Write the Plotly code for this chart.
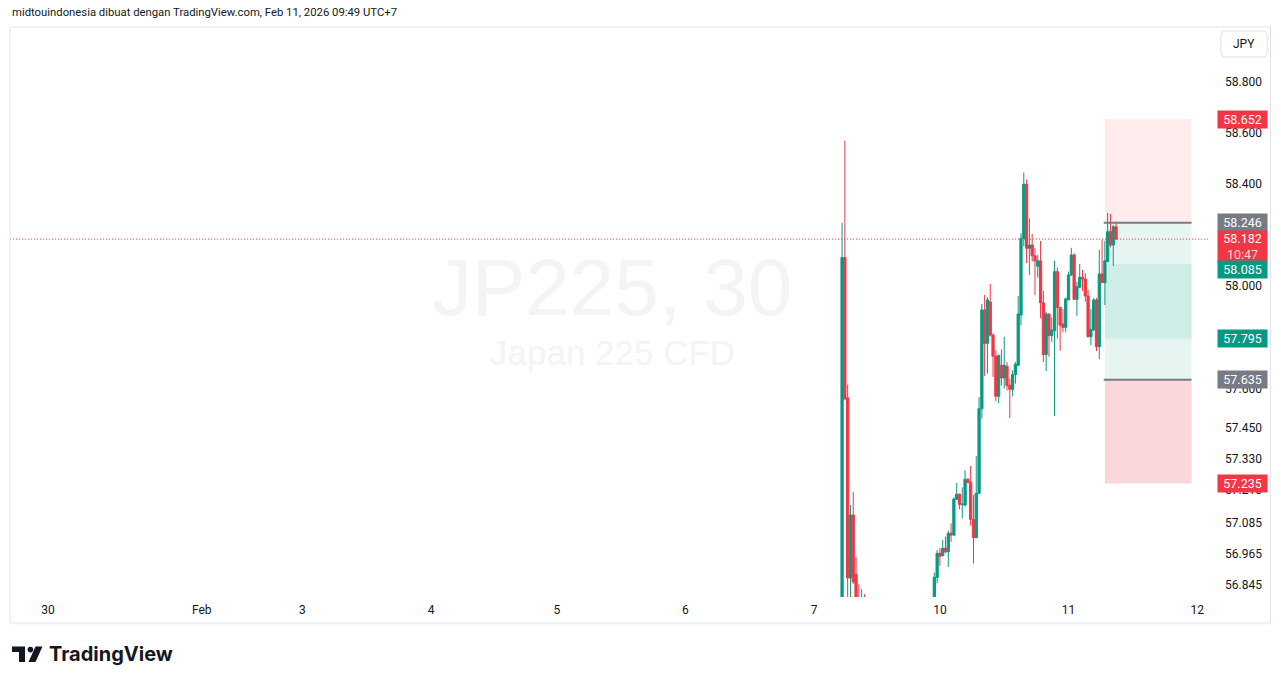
import math
import plotly.graph_objects as go

# ---- JP225 CFD, 30-minute bars (x = bar index, 0 = first bar of the rally leg) ----
bar_idx = list(range(-33, -24)) + list(range(0, 66))

opens = [
    54.300, 58.110, 57.565, 56.873, 57.114, 56.887, 56.780, 56.650, 56.780,
    56.700, 56.875, 56.967, 56.958, 56.987, 56.973, 57.044, 57.037, 57.174, 57.194,
    57.153, 57.152, 57.251, 57.240, 57.097, 57.027, 57.197, 57.523, 57.906, 57.776,
    57.937, 57.808, 57.726, 57.571, 57.691, 57.642, 57.687, 57.613, 57.598, 57.655,
    57.691, 57.886, 58.185, 58.397, 58.146, 58.159, 58.117, 58.076, 58.097, 57.934,
    57.733, 57.890, 57.806, 57.825, 58.055, 57.915, 57.851, 57.838, 57.945, 58.042,
    58.120, 57.947, 57.994, 58.033, 58.026, 57.960, 57.802, 57.828, 57.945, 57.763,
    58.046, 58.012, 58.094, 58.211, 58.159, 58.230,
]
highs = [
    58.246, 58.568, 57.617, 57.152, 57.203, 56.954, 56.849, 56.830, 56.811,
    56.894, 56.979, 56.988, 57.018, 57.031, 57.054, 57.082, 57.182, 57.237, 57.196,
    57.220, 57.286, 57.256, 57.302, 57.191, 57.340, 57.568, 57.929, 57.964, 57.955,
    58.007, 57.815, 57.750, 57.731, 57.753, 57.802, 57.703, 57.640, 57.672, 57.704,
    57.960, 58.205, 58.443, 58.416, 58.263, 58.202, 58.147, 58.120, 58.175, 57.980,
    57.899, 57.892, 57.877, 58.097, 58.071, 57.917, 57.910, 57.954, 58.055, 58.148,
    58.127, 58.016, 58.085, 58.062, 58.049, 57.984, 57.910, 57.952, 57.952, 58.140,
    58.181, 58.176, 58.285, 58.280, 58.237, 58.250,
]
lows = [
    54.250, 57.555, 56.550, 56.600, 56.850, 56.650, 56.650, 56.600, 56.620,
    56.650, 56.852, 56.919, 56.956, 56.967, 56.915, 57.011, 57.033, 57.171, 57.136,
    57.101, 57.146, 57.237, 57.073, 56.928, 57.025, 57.195, 57.485, 57.650, 57.659,
    57.802, 57.646, 57.552, 57.544, 57.613, 57.601, 57.594, 57.487, 57.571, 57.620,
    57.690, 57.845, 58.155, 58.088, 58.042, 58.094, 57.964, 58.032, 57.873, 57.704,
    57.669, 57.724, 57.782, 57.495, 57.795, 57.747, 57.819, 57.819, 57.944, 58.038,
    57.945, 57.883, 57.990, 57.980, 57.938, 57.799, 57.769, 57.824, 57.746, 57.715,
    58.011, 57.925, 58.093, 58.150, 58.077, 58.178,
]
closes = [
    58.110, 57.562, 56.873, 57.114, 56.858, 56.700, 56.700, 56.760, 56.700,
    56.876, 56.967, 56.956, 56.986, 56.973, 57.044, 57.037, 57.175, 57.194, 57.155,
    57.156, 57.251, 57.238, 57.097, 57.027, 57.197, 57.523, 57.906, 57.776, 57.945,
    57.808, 57.726, 57.571, 57.730, 57.642, 57.691, 57.613, 57.598, 57.655, 57.695,
    57.890, 58.185, 58.397, 58.146, 58.159, 58.117, 58.097, 58.097, 57.934, 57.733,
    57.890, 57.806, 57.828, 58.055, 57.915, 57.847, 57.838, 57.949, 58.042, 58.120,
    57.947, 57.996, 58.033, 58.026, 57.960, 57.802, 57.830, 57.945, 57.763, 58.046,
    58.012, 58.097, 58.211, 58.159, 58.230, 58.182,
]

# ---- time scale (first bar of each day) ----
day_tick_idx = [-317, -262, -226, -180, -135, -89, -43, 2, 48, 94]
day_tick_text = ["30", "Feb", "3", "4", "5", "6", "7", "10", "11", "12"]

# ---- price scale (logarithmic) ----
price_ticks = [58.8, 58.6, 58.4, 58.0, 57.6, 57.45, 57.33, 57.21, 57.085, 56.965, 56.845]
price_tick_text = ["58.800", "58.600", "58.400", "58.000", "57.600", "57.450",
                   "57.330", "57.210", "57.085", "56.965", "56.845"]

last_price = 58.182
last_price_text = "58.182"
countdown_text = "10:47"

# ---- position tools (short + long) ----
short_entry, short_stop, short_target = 58.246, 58.652, 57.795
long_entry, long_stop, long_target = 57.635, 57.235, 58.085
tool_start, tool_end = 61, 92

# ---- colours ----
UP = "#089981"
DOWN = "#F23645"
GREY = "#787B86"
TEXT = "#131722"
FRAME = "#E0E3EB"

W, H = 1281, 684
ML, MR, MT, MB = 10, 71, 27, 87
PW, PH = W - ML - MR, H - MT - MB
X_RANGE = [-330.6, 98.6]
Y_RANGE = [1.75435, 1.770975]


def px(x):
    """page pixel -> paper x"""
    return (x - ML) / PW


def py(y):
    """page pixel -> paper y"""
    return (H - MB - y) / PH


fig = go.Figure()

fig.add_trace(go.Candlestick(
    x=bar_idx, open=opens, high=highs, low=lows, close=closes,
    increasing=dict(line=dict(color=UP, width=1), fillcolor=UP),
    decreasing=dict(line=dict(color=DOWN, width=1), fillcolor=DOWN),
    whiskerwidth=0, hoverinfo="skip", showlegend=False,
))

shapes = []
# position tool zones
zones = [
    (short_entry, short_stop, "rgba(242,54,69,0.10)"),
    (short_target, short_entry, "rgba(8,153,129,0.10)"),
    (long_entry, long_target, "rgba(8,153,129,0.10)"),
    (long_stop, long_entry, "rgba(242,54,69,0.20)"),
]
for lo, hi, col in zones:
    shapes.append(dict(type="rect", xref="x", yref="y", x0=tool_start, x1=tool_end,
                       y0=lo, y1=hi, fillcolor=col, line=dict(width=0), layer="below"))
for lvl in (short_entry, long_entry):
    shapes.append(dict(type="line", xref="x", yref="y", x0=tool_start - 0.4, x1=tool_end,
                       y0=lvl, y1=lvl, line=dict(color=GREY, width=2), layer="above"))
# last price line
shapes.append(dict(type="line", xref="x", yref="y", x0=X_RANGE[0], x1=X_RANGE[1],
                   y0=last_price, y1=last_price,
                   line=dict(color=DOWN, width=1, dash="1px,2px"), layer="above"))

# chart frame
shapes.append(dict(type="rect", xref="paper", yref="paper",
                   x0=px(10), x1=px(1270.5), y0=py(623), y1=py(27),
                   line=dict(color=FRAME, width=1), fillcolor="rgba(0,0,0,0)"))
shapes.append(dict(type="line", xref="paper", yref="paper",
                   x0=px(10), x1=px(1271), y0=py(623.5), y1=py(623.5),
                   line=dict(color="#F0F3FA", width=2)))

# currency button
x0b, x1b, y0b, y1b, r = 1221, 1267, 31, 57, 4
path = (f"M {px(x0b + r)},{py(y0b)} L {px(x1b - r)},{py(y0b)} "
        f"Q {px(x1b)},{py(y0b)} {px(x1b)},{py(y0b + r)} L {px(x1b)},{py(y1b - r)} "
        f"Q {px(x1b)},{py(y1b)} {px(x1b - r)},{py(y1b)} L {px(x0b + r)},{py(y1b)} "
        f"Q {px(x0b)},{py(y1b)} {px(x0b)},{py(y1b - r)} L {px(x0b)},{py(y0b + r)} "
        f"Q {px(x0b)},{py(y0b)} {px(x0b + r)},{py(y0b)} Z")
shapes.append(dict(type="path", xref="paper", yref="paper", path=path,
                   line=dict(color=FRAME, width=1), fillcolor="white"))

# TradingView logo mark
def poly(pts):
    return "M " + " L ".join(f"{px(a)},{py(b)}" for a, b in pts) + " Z"

shapes.append(dict(type="path", xref="paper", yref="paper",
                   path=poly([(12, 646.5), (25, 646.5), (25, 662), (19, 662), (19, 652), (12, 652)]),
                   fillcolor="#131722", line=dict(width=0)))
shapes.append(dict(type="circle", xref="paper", yref="paper",
                   x0=px(27.6), x1=px(33.2), y0=py(652.4), y1=py(646.8),
                   fillcolor="#131722", line=dict(width=0)))
shapes.append(dict(type="path", xref="paper", yref="paper",
                   path=poly([(35.5, 646.5), (42.5, 646.5), (35.5, 662), (28.5, 662)]),
                   fillcolor="#131722", line=dict(width=0)))

annotations = []

# watermark
annotations.append(dict(text="JP225, 30", xref="paper", yref="paper", x=px(612), y=py(287),
                        xanchor="center", yanchor="middle", showarrow=False,
                        font=dict(family="Liberation Sans", size=80, color="#F4F4F5")))
annotations.append(dict(text="Japan 225 CFD", xref="paper", yref="paper", x=px(612), y=py(352),
                        xanchor="center", yanchor="middle", showarrow=False,
                        font=dict(family="Liberation Sans", size=35, color="#F4F4F5")))

# header
annotations.append(dict(text="midtouindonesia dibuat dengan TradingView.com, Feb 11, 2026 09:49 UTC+7",
                        xref="paper", yref="paper", x=px(10), y=py(13), xanchor="left",
                        yanchor="middle", showarrow=False,
                        font=dict(family="Roboto", size=11.3, color=TEXT)))
# logo text
annotations.append(dict(text="<b>TradingView</b>", xref="paper", yref="paper", x=px(47), y=py(654),
                        xanchor="left", yanchor="middle", showarrow=False,
                        font=dict(family="Inter", size=20, color=TEXT)))
# currency
annotations.append(dict(text="JPY", xref="paper", yref="paper", x=px(1244), y=py(44),
                        xanchor="center", yanchor="middle", showarrow=False,
                        font=dict(family="Roboto", size=12, color=TEXT)))

# price-scale labels
def price_label(value, text, bg, shift=0, color="white", h=13):
    annotations.append(dict(text=text, xref="paper", yref="y", x=px(1242.5), y=math.log10(value),
                            xanchor="center", yanchor="middle", yshift=shift, showarrow=False,
                            bgcolor=bg, borderpad=2, width=45, height=h, align="center",
                            font=dict(family="Roboto", size=12.5, color=color)))

price_label(short_stop, f"{short_stop:.3f}", DOWN)
price_label(short_entry, f"{short_entry:.3f}", GREY)
price_label(last_price,
            f"{last_price_text}<br><span style='color:rgba(255,255,255,0.8)'>{countdown_text}</span>",
            DOWN, shift=-7.5, h=27)
price_label(long_target, f"{long_target:.3f}", UP, shift=-6)
price_label(short_target, f"{short_target:.3f}", UP)
price_label(long_entry, f"{long_entry:.3f}", GREY)
price_label(long_stop, f"{long_stop:.3f}", DOWN)

fig.update_layout(
    width=W, height=H,
    margin=dict(l=ML, r=MR, t=MT, b=MB, pad=0),
    paper_bgcolor="white", plot_bgcolor="white",
    showlegend=False,
    boxgap=0.2, boxgroupgap=0,
    shapes=shapes,
    annotations=annotations,
    xaxis=dict(range=X_RANGE, tickvals=day_tick_idx, ticktext=day_tick_text,
               showgrid=False, zeroline=False, showline=False, ticks="",
               ticklabelstandoff=4,
               tickfont=dict(family="Roboto", size=12, color=TEXT),
               rangeslider=dict(visible=False), fixedrange=True),
    yaxis=dict(type="log", range=Y_RANGE, side="right", tickvals=price_ticks,
               ticktext=price_tick_text, showgrid=False, zeroline=False, showline=False,
               ticks="", ticklabelstandoff=14,
               tickfont=dict(family="Roboto", size=12, color=TEXT), fixedrange=True),
)

fig.write_html("out.html")
